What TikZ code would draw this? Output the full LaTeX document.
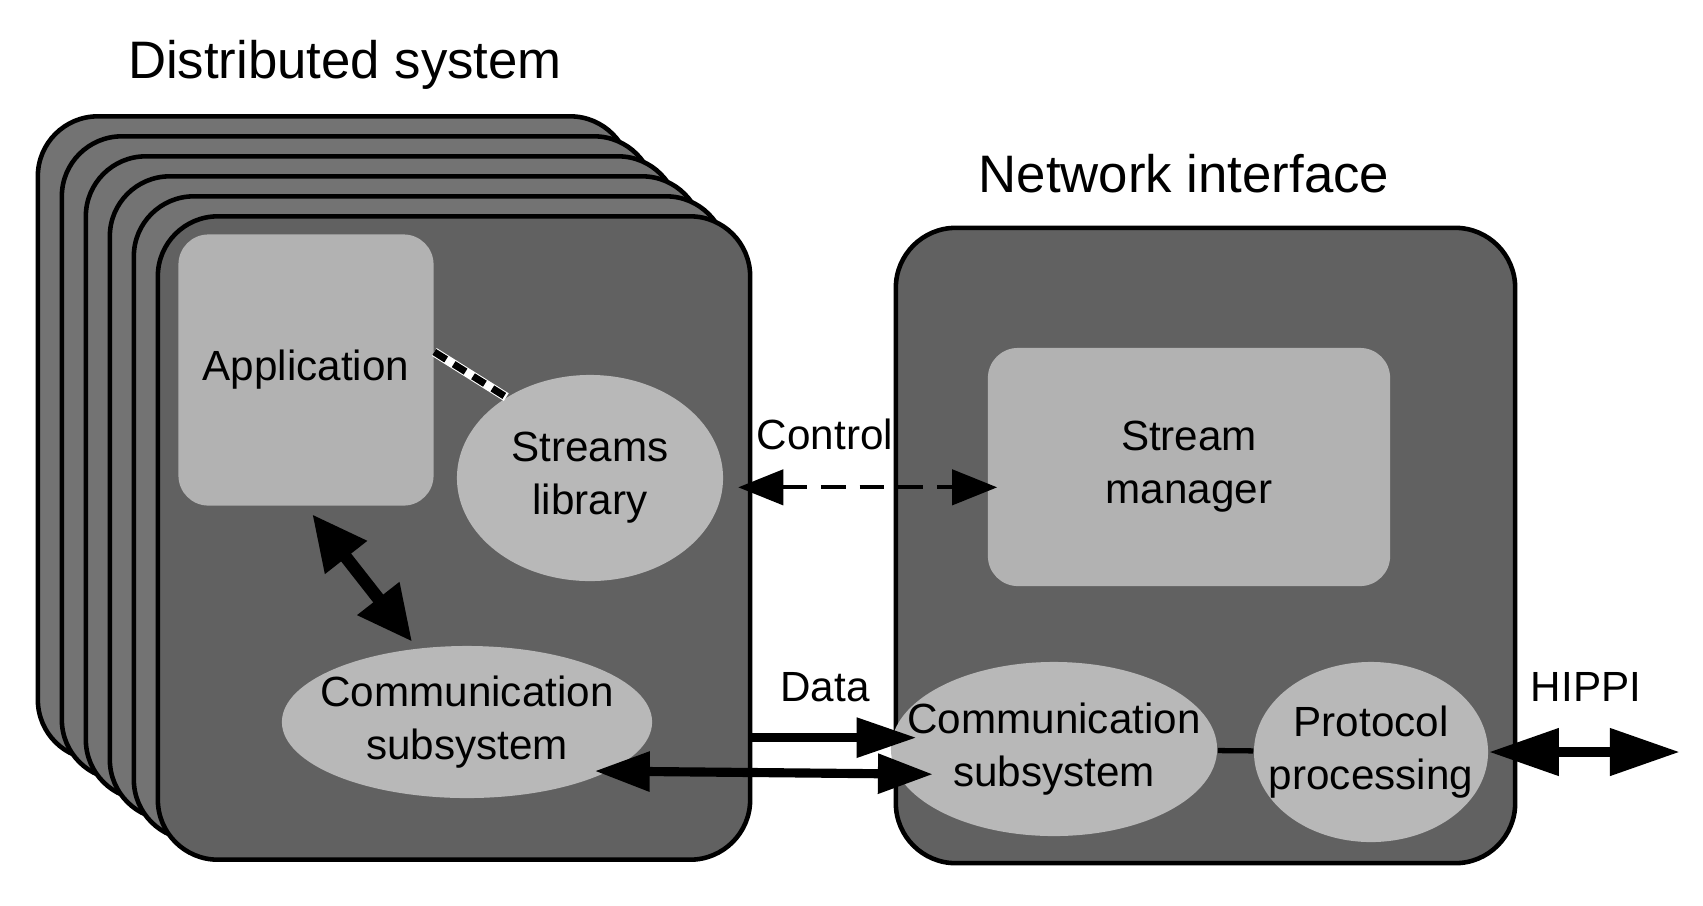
\documentclass[tikz,border=0pt]{standalone}
\usepackage{fontspec}
\setmainfont{Liberation Sans}
\usetikzlibrary{shapes.geometric,arrows.meta}

\begin{document}
\begin{tikzpicture}[x=0.01cm,y=-0.01cm,
		host/.style={draw=black,line width=1.3pt,fill=black!55,rounded corners=0.6cm,minimum width=5.92cm,minimum height=6.43cm},
		part/.style={fill=black!30,align=center,font=\fontsize{12}{15}\selectfont},
		blob/.style={ellipse,fill=black!28,inner sep=0pt},
		intext/.style={align=center,font=\fontsize{12}{15}\selectfont},
		tag/.style={font=\fontsize{12}{15}\selectfont},
		title/.style={font=\fontsize{15}{18}\selectfont},
		biarrow/.style={line width=2.6pt,{Triangle[length=0.55cm,width=0.38cm]}-{Triangle[length=0.55cm,width=0.38cm]}},
		oneway/.style={line width=2.6pt,-{Triangle[length=0.6cm,width=0.38cm]}},
		ctrl/.style={line width=1.2pt,dash pattern=on 7pt off 4pt,{Triangle[length=0.45cm,width=0.35cm]}-{Triangle[length=0.45cm,width=0.35cm]}},
		dots/.style={line width=2pt,dash pattern=on 4pt off 2.5pt,preaction={draw=white,solid,line width=2.6pt}}]
	\useasboundingbox (0,0) rectangle (1703,905);
	\foreach \i/\shade in {0/55,1/55,2/55,3/55,4/55,5/62}
		\node[host,fill=black!\shade] (box\i) at ({334+24*\i},{438+20*\i}) {};
	\node[host,fill=black!62,minimum width=6.19cm,minimum height=6.35cm] (nic) at (1205.5,545.5) {};
	\node[part,rounded corners=0.3cm,minimum width=2.55cm,minimum height=2.71cm] (app) at (306,370) {Application};
	\node[blob,minimum width=2.66cm,minimum height=2.06cm,label={[intext]center:{Streams\\library}}] (sl) at (590,478) {};
	\node[blob,minimum width=3.7cm,minimum height=1.52cm,label={[intext]center:{Communication\\subsystem}}] (cl) at (467,722) {};
	\node[part,rounded corners=0.3cm,minimum width=4.02cm,minimum height=2.38cm] (sm) at (1189,467) {Stream\\manager};
	\node[blob,minimum width=3.26cm,minimum height=1.74cm,label={[intext]center:{Communication\\subsystem}}] (cr) at (1054,749) {};
	\node[blob,minimum width=2.34cm,minimum height=1.8cm,label={[intext]center:{Protocol\\processing}}] (pp) at (1371,752) {};
	\coordinate (hippi) at (1680,752);
	\draw[dots] (app.8) -- (sl.136);
	\draw[line width=3.6pt,{Triangle[length=0.55cm,width=0.5cm]}-{Triangle[length=0.55cm,width=0.5cm]},shorten <=0.1cm,shorten >=0.08cm] (app.south) -- (cl.124);
	\draw[ctrl,shorten <=0.15cm,shorten >=-0.1cm] (sl.-4) -- (sm.west |- sl.-4);
	\draw[oneway,shorten >=-0.25cm] (box5.east |- cr.176) -- (cr.176);
	\draw[biarrow,shorten <=-0.15cm,shorten >=-0.36cm] (cl.-19) -- (cr.-171);
	\draw[line width=1.5pt] (cr) -- (pp);
	\draw[line width=3pt,{Triangle[length=0.7cm,width=0.45cm]}-{Triangle[length=0.7cm,width=0.45cm]}] (pp.east) -- (hippi);
	\node[tag] (ctrllabel) at (825,434) {Control};
	\node[tag] (datalabel) at (825,687) {Data};
	\node[tag] (hippilabel) at (1586,687) {HIPPI};
	\node[title] (dstitle) at (345,65) {Distributed system};
	\node[title] (nititle) at (1184,174) {Network interface};
\end{tikzpicture}
\end{document}
